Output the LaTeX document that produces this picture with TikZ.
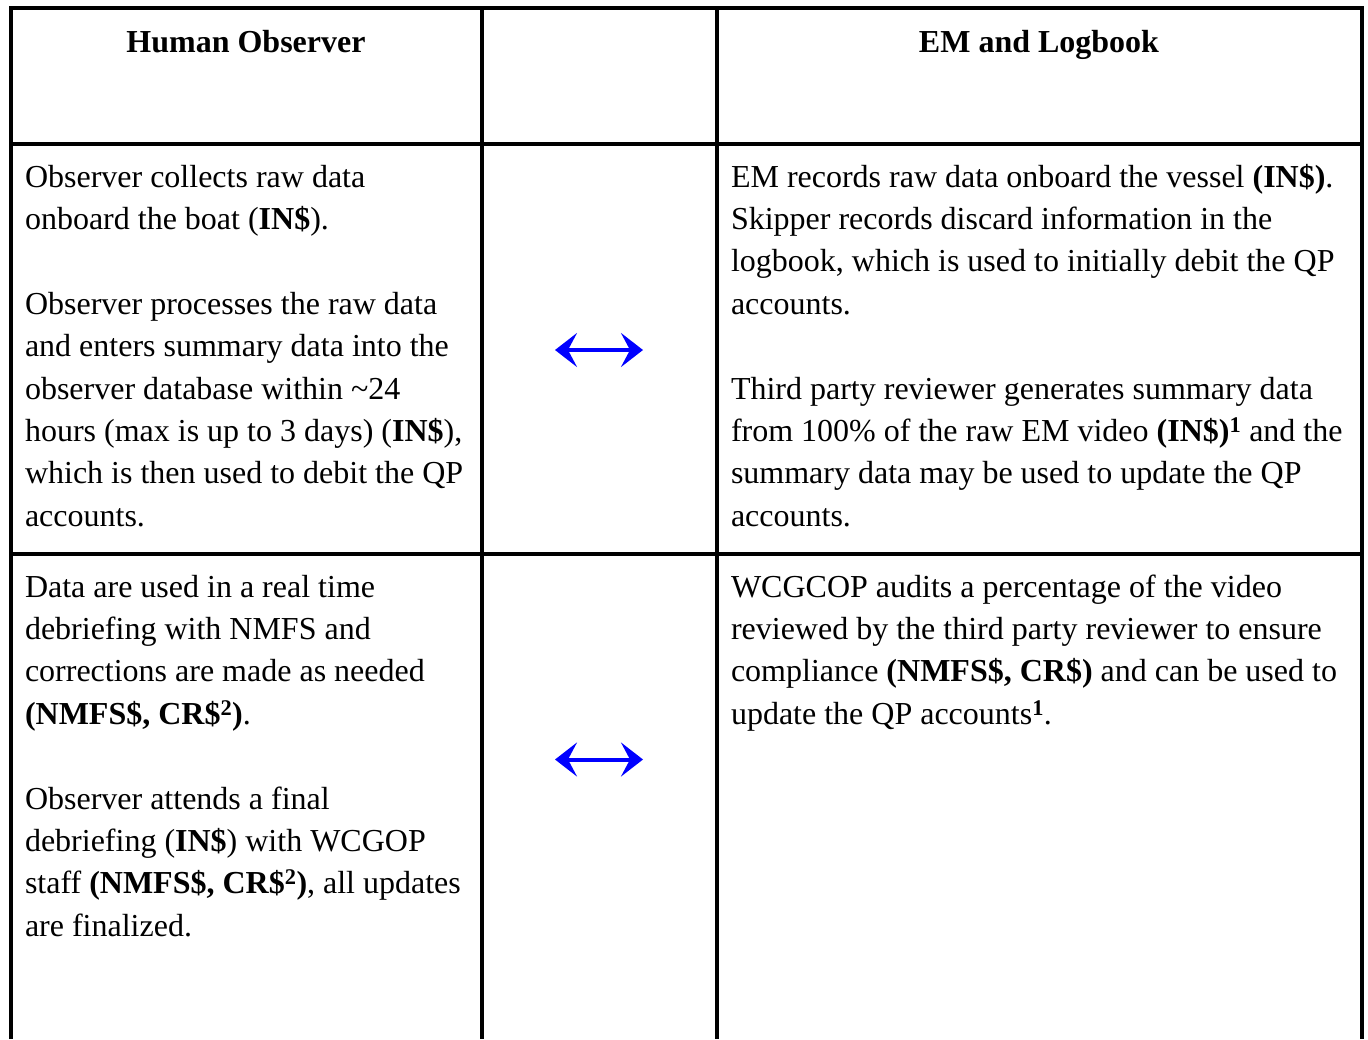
\documentclass[tikz,border=0pt]{standalone}
\usepackage{fontspec}
\setmainfont{Liberation Serif}
\usetikzlibrary{arrows.meta}

% table rules, cell text and the two-way links between the columns
\tikzset{
  rule/.style={line width=3.6pt, black, line join=miter},
  cell/.style={anchor=base west, inner sep=0pt, outer sep=0pt},
  head/.style={anchor=base, inner sep=0pt, outer sep=0pt,
    font=\fontsize{32}{42.4}\selectfont\bfseries},
  link/.style={line width=4pt, blue,
    {Stealth[length=22pt,width=34pt,inset=9pt]}-{Stealth[length=22pt,width=34pt,inset=9pt]}}
}
\newcommand{\celltext}[1]{\parbox[t]{700pt}{\raggedright\fontsize{32}{42.4}\selectfont #1}}
\newcommand{\bsup}[1]{\textsuperscript{\textbf{#1}}}

\begin{document}
\begin{tikzpicture}[x=1pt, y=-1pt]
  \useasboundingbox (0,0) rectangle (1368,1039);

  % grid
  \draw[rule] (11,1039) -- (11,8) -- (1362,8) -- (1362,1039);
  \draw[rule] (11,143.7) -- (1362,143.7);
  \draw[rule] (11,553.7) -- (1362,553.7);
  \draw[rule] (482,8) -- (482,1039);
  \draw[rule] (716.7,8) -- (716.7,1039);

  % column headings
  \node[head] (hleft) at (246,52) {Human Observer};
  \node[head] (hright) at (1039,52) {EM and Logbook};

  % second row
  \node[cell] (obsA) at (25,187) {\celltext{%
    Observer collects raw data\\
    onboard the boat (\textbf{IN\$}).\\[42.4pt]
    Observer processes the raw data\\
    and enters summary data into the\\
    observer database within \textasciitilde24\\
    hours (max is up to 3 days) (\textbf{IN\$}),\\
    which is then used to debit the QP\\
    accounts.}};
  \node[cell] (emA) at (731,187) {\celltext{%
    EM records raw data onboard the vessel \textbf{(IN\$)}.\\
    Skipper records discard information in the\\
    logbook, which is used to initially debit the QP\\
    accounts.\\[42.4pt]
    Third party reviewer generates summary data\\
    from 100\% of the raw EM video \textbf{(IN\$)}\bsup{1} and the\\
    summary data may be used to update the QP\\
    accounts.}};

  % third row
  \node[cell] (obsB) at (25,597) {\celltext{%
    Data are used in a real time\\
    debriefing with NMFS and\\
    corrections are made as needed\\
    \textbf{(NMFS\$, CR\$\textsuperscript{2})}.\\[42.4pt]
    Observer attends a final\\
    debriefing (\textbf{IN\$}) with WCGOP\\
    staff \textbf{(NMFS\$, CR\$\textsuperscript{2})}, all updates\\
    are finalized.}};
  \node[cell] (emB) at (731,597) {\celltext{%
    WCGCOP audits a percentage of the video\\
    reviewed by the third party reviewer to ensure\\
    compliance \textbf{(NMFS\$, CR\$)} and can be used to\\
    update the QP accounts\bsup{1}.}};

  % two-way links between the columns
  \coordinate (aL) at (555,350);
  \coordinate (aR) at (643,350);
  \coordinate (bL) at (555,759.5);
  \coordinate (bR) at (643,759.5);
  \draw[link] (aL) -- (aR);
  \draw[link] (bL) -- (bR);
\end{tikzpicture}
\end{document}
